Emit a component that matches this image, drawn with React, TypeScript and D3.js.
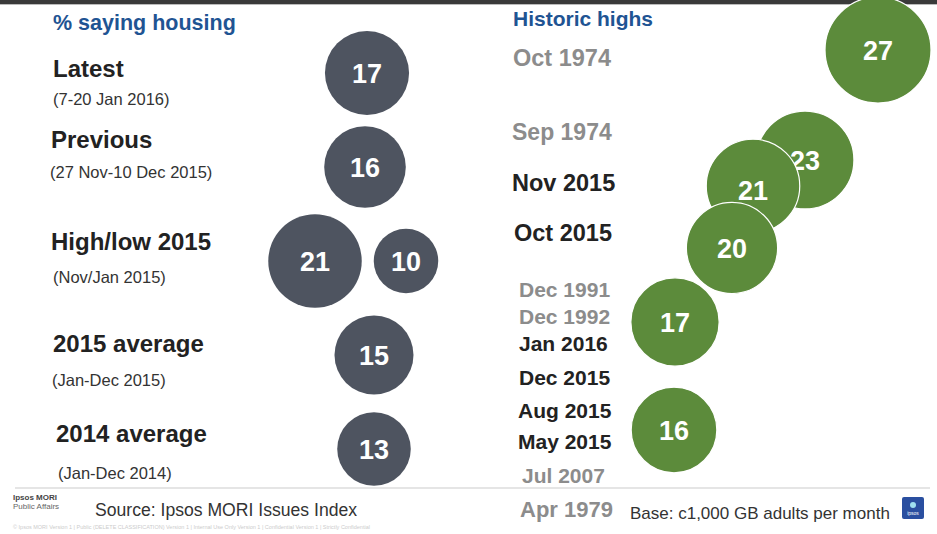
import React from "react";
import * as d3 from "d3";

// ---- data ----
const leftTitles = ["Latest", "Previous", "High/low 2015", "2015 average", "2014 average"];
const leftSubtitles = ["(7-20 Jan 2016)", "(27 Nov-10 Dec 2015)", "(Nov/Jan 2015)", "(Jan-Dec 2015)", "(Jan-Dec 2014)"];
const leftValues = [17, 16, 21, 10, 15, 13];
const leftRowOf = [0, 1, 2, 2, 3, 4];

const historicDates = ["Oct 1974", "Sep 1974", "Nov 2015", "Oct 2015", "Dec 1991", "Dec 1992", "Jan 2016", "Dec 2015", "Aug 2015", "May 2015", "Jul 2007", "Apr 1979"];
const historicRecent = [false, false, true, true, false, false, true, true, true, true, false, false];
const historicValues = [27, 23, 21, 20, 17, 16];

// ---- layout ----
const W = 937, H = 534;
const leftTitleY = [77, 148, 250, 352, 442];
const leftSubY = [105, 178, 283, 386, 479];
const leftTitleX = [53, 51, 51, 53, 56];
const leftSubX = [53, 50, 53, 52, 58];
const leftCircleX = [367, 365, 315, 406, 374, 374];
const dateY = [66, 140, 191, 241, 297, 324, 351, 385, 418, 449, 483, 517];
const dateX = [513, 512, 512, 514, 519, 519, 519, 519, 518, 518, 522, 520];
const dateSize = [23.5, 23, 23.5, 23.5, 21, 21, 21, 21, 21, 21, 21, 22];
const greenCY = [50, 160, 186, 248, 322, 430];
const greenLabelDY = [0, 0, 4, 0, 0, 0];

export default function App() {
  const r = d3.scaleSqrt().domain([0, 27]).range([0, 53]);
  const rowY = d3.scalePoint<number>().domain(d3.range(5)).range([73, 449]);
  const gx = d3.scaleLinear().domain([16, 17, 20, 21, 23, 27]).range([674, 675, 732, 753, 805, 878]);
  const font = "'Liberation Sans', Arial, sans-serif";
  const dark = "#4e5460";
  const green = "#5c8b3b";

  return (
    <svg width={W} height={H} style={{ position: "absolute", left: 0, top: 0, background: "#fff" }} fontFamily={font}>
      <rect x={0} y={0} width={W} height={H} fill="#fff" />
      <rect x={0} y={0} width={W} height={4} fill="#3a3a3a" />
      <rect x={0} y={4} width={W} height={1} fill="#bbb" />

      {/* left header */}
      <text x={53} y={30} fontSize={21.5} fontWeight="bold" fill="#1f5493">% saying housing</text>
      {leftTitles.map((t, i) => (
        <g key={t}>
          <text x={leftTitleX[i]} y={leftTitleY[i]} fontSize={24} fontWeight="bold" fill="#222">{t}</text>
          <text x={leftSubX[i]} y={leftSubY[i]} fontSize={16.5} fill="#333">{leftSubtitles[i]}</text>
        </g>
      ))}
      {leftValues.map((v, i) => (
        <g key={"l" + i}>
          <circle cx={leftCircleX[i]} cy={rowY(leftRowOf[i])} r={r(v)} fill={dark} />
          <text x={leftCircleX[i]} y={rowY(leftRowOf[i])! + 10} textAnchor="middle" fontSize={27} fontWeight="bold" fill="#fff">{v}</text>
        </g>
      ))}

      {/* right header */}
      <text x={513} y={26} fontSize={21} fontWeight="bold" fill="#1f5493">Historic highs</text>
      {historicDates.map((d, i) => (
        <text key={d} x={dateX[i]} y={dateY[i]} fontSize={dateSize[i]} fontWeight="bold" fill={historicRecent[i] ? "#222" : "#8c8c8c"}>{d}</text>
      ))}
      {historicValues.map((v, i) => (
        <g key={"g" + i}>
          <circle cx={gx(v)} cy={greenCY[i]} r={r(v) * (v < 20 ? 1.05 : 1)} fill={green} stroke="#fff" strokeWidth={1.2} />
          <text x={gx(v)} y={greenCY[i] + 10 + greenLabelDY[i]} textAnchor="middle" fontSize={27} fontWeight="bold" fill="#fff">{v}</text>
        </g>
      ))}

      {/* footer */}
      <line x1={15} x2={930} y1={488} y2={488} stroke="#ddd" strokeWidth={1.5} />
      <text x={13} y={500} fontSize={8} fontWeight="bold" fill="#444">Ipsos MORI</text>
      <text x={13} y={509} fontSize={8} fill="#666">Public Affairs</text>
      <text x={95} y={516} fontSize={17.6} fill="#333">Source:  Ipsos MORI Issues Index</text>
      <text x={13} y={529} fontSize={5.5} fill="#ccc">© Ipsos MORI     Version 1 | Public (DELETE CLASSIFICATION)   Version 1 | Internal Use Only   Version 1 | Confidential   Version 1 | Strictly Confidential</text>
      <text x={630} y={519} fontSize={17} fill="#333">Base: c1,000 GB adults per month</text>
      <rect x={902} y={497} width={22} height={22} rx={2} fill="#2a4fa0" />
      <circle cx={913} cy={505} r={3} fill="#9fe0f0" />
      <text x={913} y={515} textAnchor="middle" fontSize={5} fill="#fff">ipsos</text>
    </svg>
  );
}
